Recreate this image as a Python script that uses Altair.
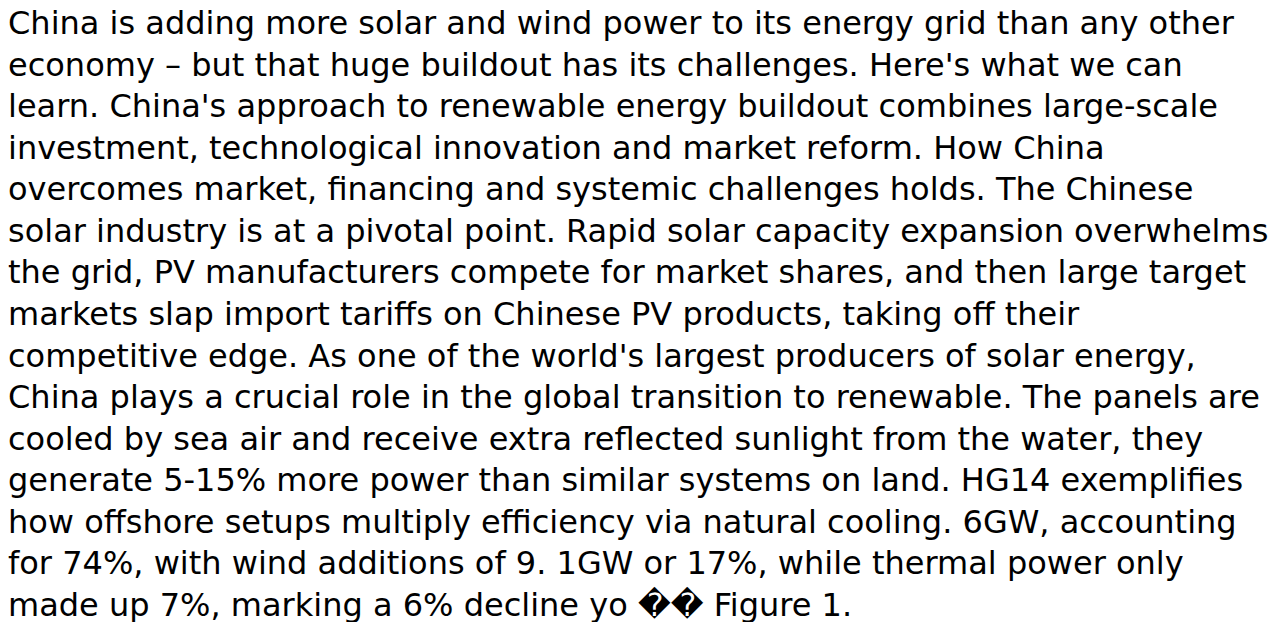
import altair as alt
import pandas as pd

lines = [
    "China is adding more solar and wind power to its energy grid than any other",
    "economy \u2013 but that huge buildout has its challenges. Here's what we can",
    "learn. China's approach to renewable energy buildout combines large-scale",
    "investment, technological innovation and market reform. How China",
    "overcomes market, financing and systemic challenges holds. The Chinese",
    "solar industry is at a pivotal point. Rapid solar capacity expansion overwhelms",
    "the grid, PV manufacturers compete for market shares, and then large target",
    "markets slap import tariffs on Chinese PV products, taking off their",
    "competitive edge. As one of the world's largest producers of solar energy,",
    "China plays a crucial role in the global transition to renewable. The panels are",
    "cooled by sea air and receive extra reflected sunlight from the water, they",
    "generate 5-15% more power than similar systems on land. HG14 exemplifies",
    "how offshore setups multiply efficiency via natural cooling. 6GW, accounting",
    "for 74%, with wind additions of 9. 1GW or 17%, while thermal power only",
    "made up 7%, marking a 6% decline yo \ufffd\ufffd Figure 1.",
]
line_index = list(range(len(lines)))

df = pd.DataFrame({"line": line_index, "text": lines})

chart = (
    alt.Chart(df)
    .mark_text(
        align="left",
        baseline="alphabetic",
        font="DejaVu Sans",
        fontSize=32,
        color="#000000",
    )
    .encode(
        x=alt.value(0),
        y=alt.Y("line:Q", axis=None, scale=alt.Scale(domain=[0, 14], range=[26, 608])),
        text="text:N",
    )
    .properties(width=1268, height=609, padding=0)
    .configure_view(stroke=None)
)

chart.save("out.html", embed_options={"renderer": "svg", "actions": False})
